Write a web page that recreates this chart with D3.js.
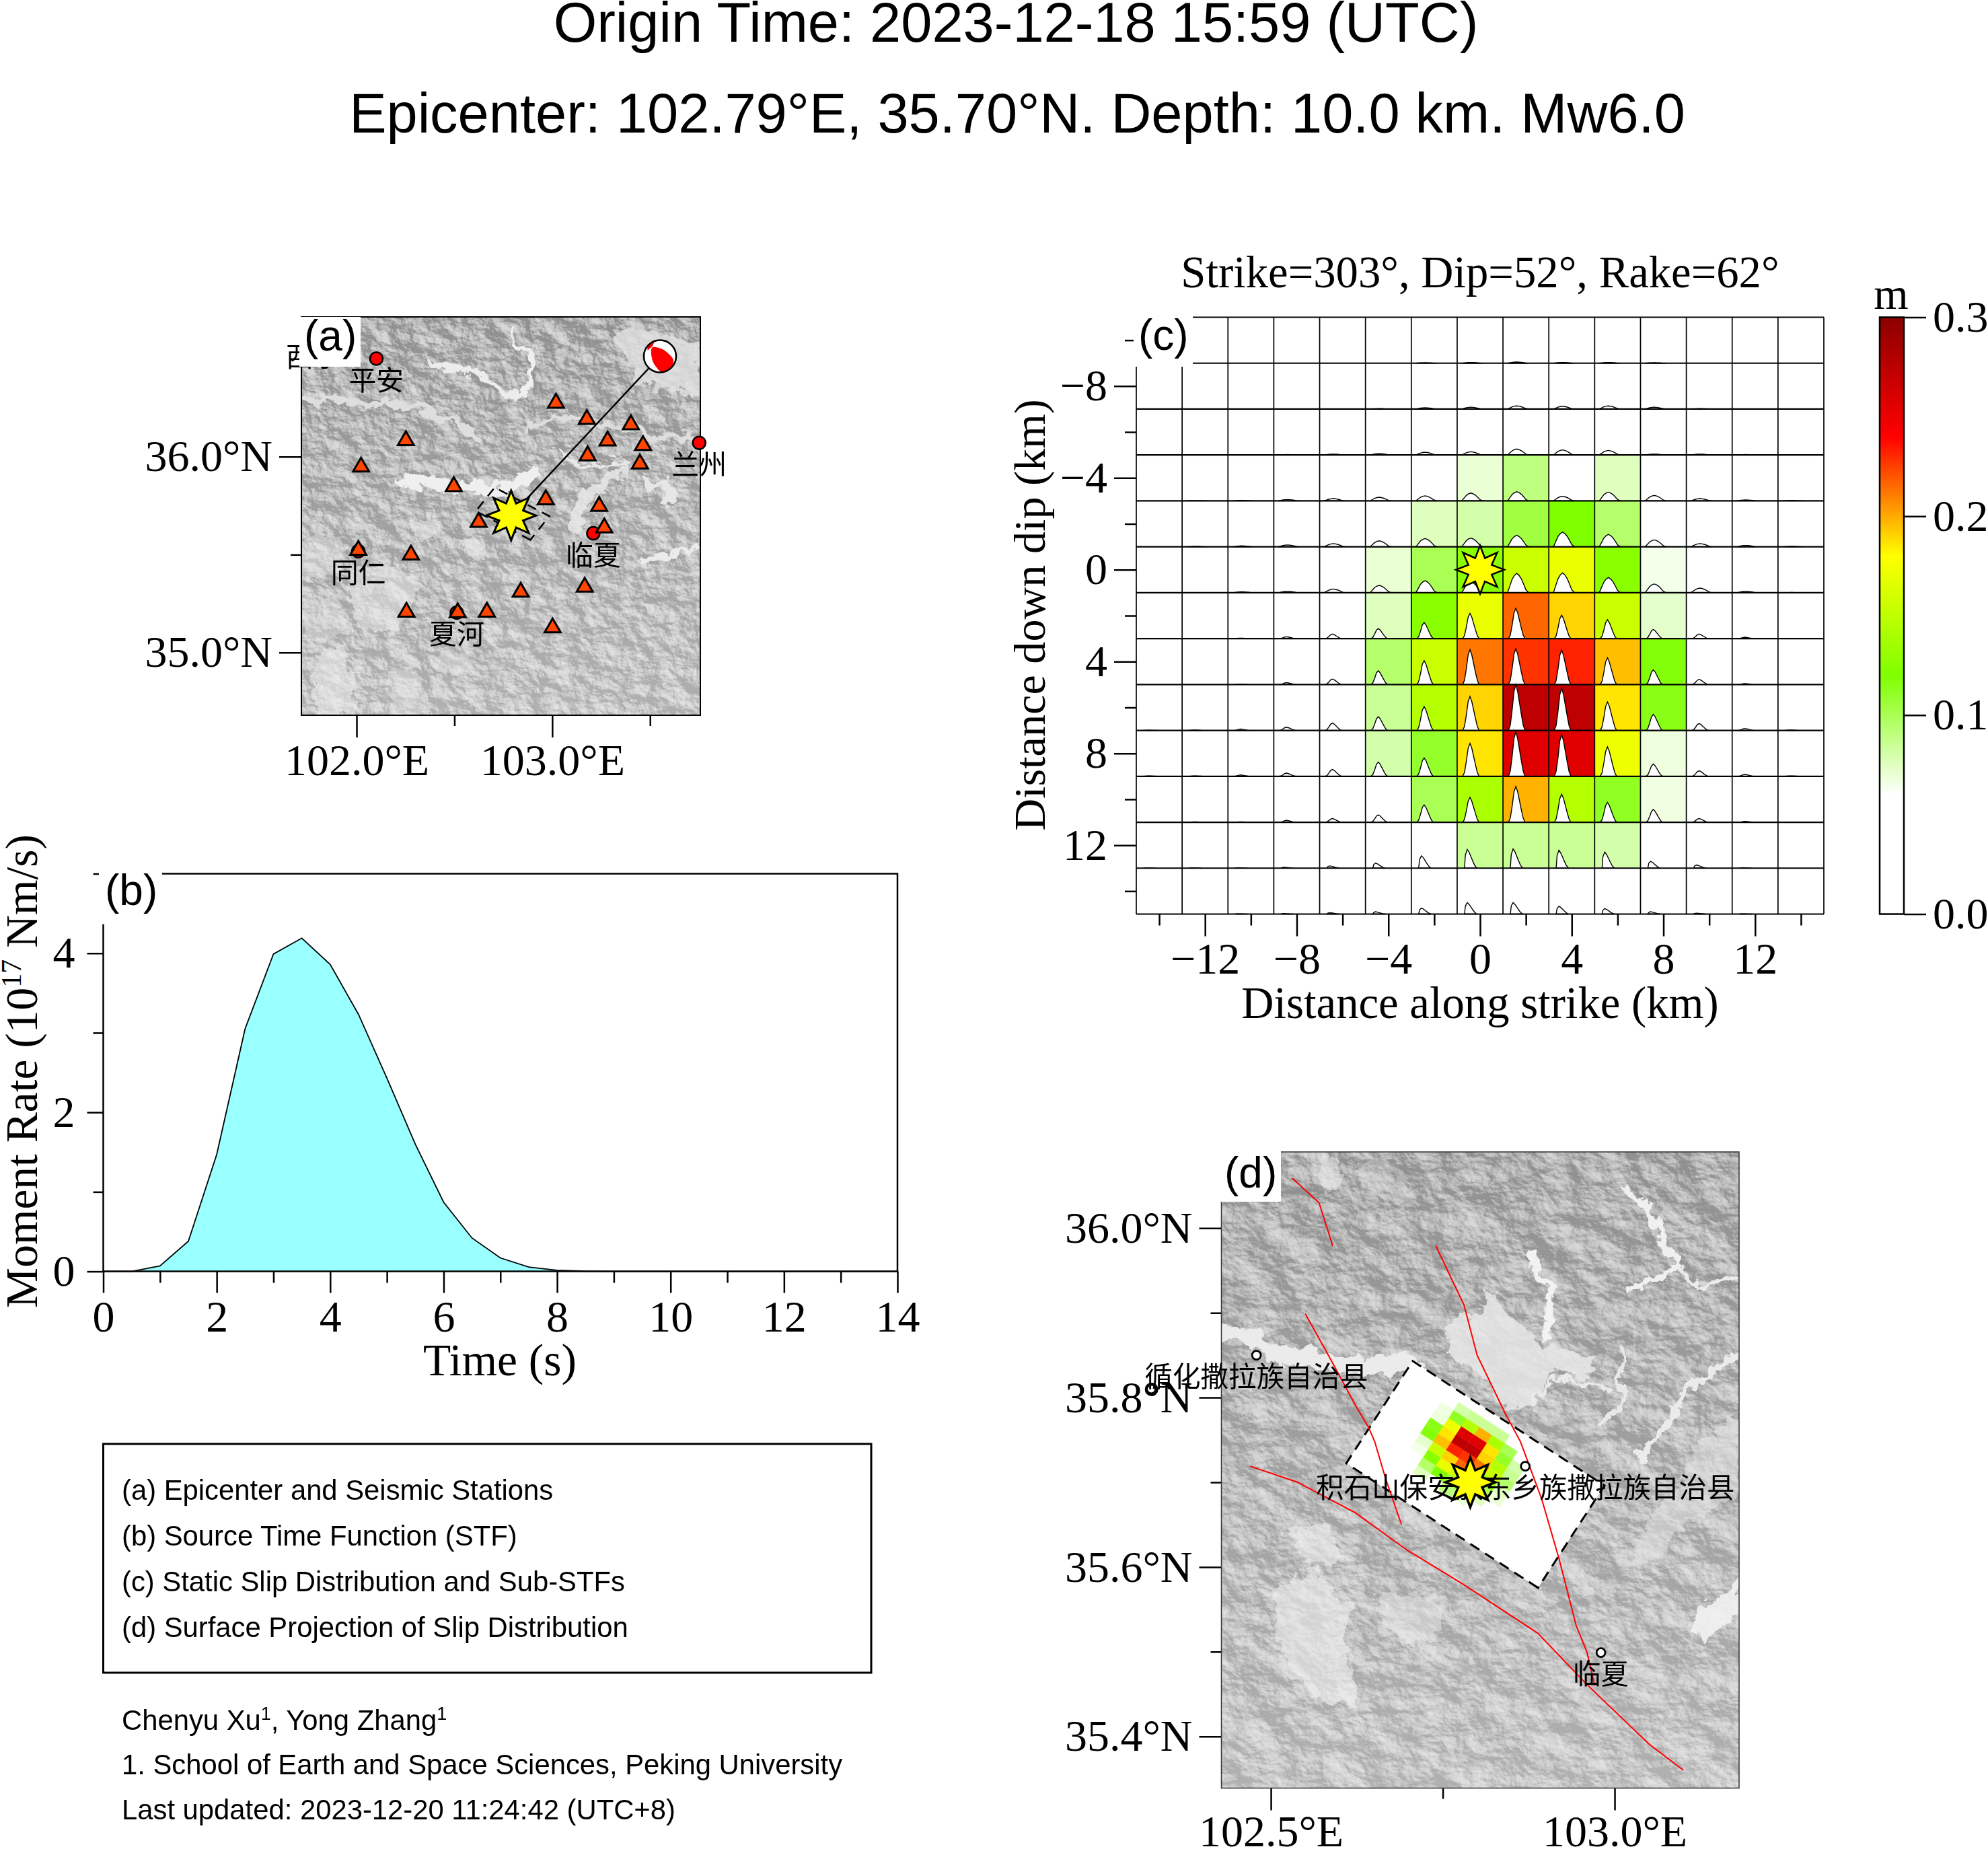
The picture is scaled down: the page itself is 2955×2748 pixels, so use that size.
<!DOCTYPE html>
<html><head><meta charset="utf-8">
<script src="https://cdn.jsdelivr.net/npm/d3@7/dist/d3.min.js"></script>
<style>
html,body{margin:0;padding:0;background:#fff;overflow:hidden}
svg{display:block}
.serif{font-family:"Liberation Serif",serif}
.sans{font-family:"Liberation Sans",sans-serif}
.cjk{font-family:"Noto Sans CJK SC",sans-serif}
</style></head><body>
<svg id="c" width="2955" height="2748"></svg>
<script>
// ---------- data ----------
const stfTime = [0,.5,1,1.5,2,2.5,3,3.5,4,4.5,5,5.5,6,6.5,7,7.5,8,8.5,9,10,12,14];
const stfRate = [0,0,.07,.38,1.47,3.05,3.99,4.19,3.86,3.23,2.43,1.6,.87,.42,.17,.055,.015,.003,0,0,0,0];

const alongStrike = [-14,-12,-10,-8,-6,-4,-2,0,2,4,6,8,10,12,14];
const downDip = [-10,-8,-6,-4,-2,0,2,4,6,8,10,12,14];
const slip = [
 [0,0,0,0,0,0,0,0,0,0,0,0,0,0,0],
 [0,0,0,0,0,0,0,0,0,0,0,0,0,0,0],
 [0,0,0,0,0,0,0,0,0,0,0,0,0,0,0],
 [0,0,0,0,0,0,0,.07,.09,0,.075,0,0,0,0],
 [0,0,0,0,0,0,.075,.08,.105,.12,.095,0,0,0,0],
 [0,0,0,0,0,.07,.1,.125,.155,.17,.125,.065,0,0,0],
 [0,0,0,0,0,.075,.125,.17,.216,.19,.155,.072,0,0,0],
 [0,0,0,0,0,.095,.155,.212,.228,.232,.195,.118,0,0,0],
 [0,0,0,0,0,.085,.145,.19,.273,.273,.186,.115,0,0,0],
 [0,0,0,0,0,.08,.11,.186,.256,.256,.172,.068,0,0,0],
 [0,0,0,0,0,0,.1,.14,.198,.145,.112,.067,0,0,0],
 [0,0,0,0,0,0,0,.085,.085,.085,.08,0,0,0,0],
 [0,0,0,0,0,0,0,0,0,0,0,0,0,0,0]];
// peak height of each sub-STF as a share of the cell height
const subPeak = [
 [0,0,0,0,0,0,.01,.015,.025,.015,.015,.01,0,0,0],
 [.004,.004,.004,.004,.005,.01,.03,.04,.07,.06,.07,.04,.01,.005,.003],
 [0,.004,.005,.01,.02,.03,.06,.07,.13,.11,.1,.02,.02,.01,.003],
 [0,.005,.01,.03,.05,.08,.11,.17,.2,.1,.19,.12,.05,.02,.01],
 [0,.01,.02,.04,.07,.13,.18,.19,.25,.32,.27,.15,.07,.03,.01],
 [0,0,.02,.03,.08,.16,.26,.24,.42,.43,.33,.19,.1,.03,.005],
 [0,0,.01,.04,.1,.22,.35,.55,.66,.51,.41,.2,.1,.03,0],
 [0,0,.01,.04,.12,.3,.52,.76,.78,.75,.58,.32,.11,.02,0],
 [.005,.01,.03,.07,.16,.3,.52,.74,1,.92,.62,.35,.15,.04,.01],
 [.01,.01,.03,.07,.15,.31,.4,.72,.97,.91,.64,.27,.12,.04,.01],
 [.005,.01,.01,.04,.08,.16,.38,.54,.78,.61,.43,.28,.08,.02,0],
 [.005,.01,.01,.02,.05,.11,.27,.41,.42,.39,.35,.15,.07,.01,0],
 [0,0,.005,.01,.03,.05,.13,.25,.25,.17,.12,.05,.02,.005,0]];
// sub-STF outlines: position inside the cell, normalised amplitude
const shapeUpperX=[.10,.15,.2,.25,.3,.35,.4,.45,.5,.56], shapeUpperY=[0,.35,.7,.9,1,.9,.72,.45,.15,0];
const shapeMidX=[.12,.16,.2,.24,.28,.32,.36,.4,.44,.48], shapeMidY=[0,.12,.45,.85,1,.85,.6,.35,.12,0];
const shapeLowX=[.16,.18,.22,.26,.3,.34,.38,.43], shapeLowY=[0,.7,1,.85,.62,.38,.16,0];

const slipStops=[0,.06,.12,.18,.24,.3];
const slipColors=["#ffffff","#ffffff","#7fff00","#ffff00","#ff0000","#8b0000"];

const epicenter=[102.79,35.70];
const stations=[[103.019,36.274],[103.177,36.191],[103.402,36.164],[103.283,36.081],[103.464,36.058],[103.181,36.005],[103.448,35.964],[102.252,36.083],[102.023,35.948],[102.497,35.848],[102.967,35.781],[102.624,35.666],[103.240,35.747],[103.266,35.637],[102.009,35.523],[102.278,35.499],[102.839,35.309],[103.166,35.335],[102.255,35.207],[102.517,35.204],[102.666,35.207],[103.002,35.127]];
const citiesA=[["西宁",101.78,36.62],["平安",102.101,36.501],["兰州",103.751,36.071],["临夏",103.21,35.609],["同仁",102.009,35.518],["夏河",102.512,35.204]];
const citiesD=[["循化撒拉族自治县",102.479,35.85],["积石山保安族东乡族撒拉族自治县",102.870,35.719],["",102.326,35.81],["临夏",102.98,35.499]];
const faults=[
 [[102.531,36.059],[102.570,36.030],[102.590,35.979]],
 [[102.740,35.979],[102.781,35.909],[102.800,35.850],[102.841,35.781],[102.863,35.748],[102.894,35.680],[102.919,35.610],[102.944,35.531],[102.960,35.499],[102.971,35.460]],
 [[102.550,35.899],[102.585,35.848],[102.623,35.791],[102.642,35.765],[102.651,35.748],[102.667,35.704],[102.690,35.650]],
 [[102.470,35.719],[102.539,35.700],[102.567,35.688],[102.623,35.664],[102.698,35.620],[102.779,35.580],[102.888,35.522],[102.960,35.461],[103.050,35.391],[103.100,35.360]]];
const strike=303, dip=52, kmPerLon=90.2, kmPerLat=111.19;

const legendLines=["(a) Epicenter and Seismic Stations","(b) Source Time Function (STF)","(c) Static Slip Distribution and Sub-STFs","(d) Surface Projection of Slip Distribution"];
const creditLines=["1. School of Earth and Space Sciences, Peking University","Last updated: 2023-12-20 11:24:42 (UTC+8)"];

// terrain decoration, in terrain-sketch coordinates of each map
const terrainA={
 lines:[[16,"#ececec",[[520,210],[620,228],[720,255],[770,285],[810,320]]],[10,"#efefef",[[810,320],[870,280],[885,210],[850,160],[800,110]]],
  [15,"#dedede",[[110,325],[200,325],[350,340],[500,345],[560,385],[620,395],[700,450]]],[12,"#dedede",[[860,410],[960,385],[1100,400],[1210,420],[1290,445],[1430,450]]],
  [26,"#efefef",[[440,580],[500,580],[570,590],[650,605],[760,612],[830,590],[880,560]]],[12,"#ebebeb",[[1240,835],[1340,810],[1435,790]]],[18,"#e6e6e6",[[1260,590],[1320,590],[1340,650]]],[8,"#e8e8e8",[[960,480],[1000,520],[1060,530],[1170,520]]]],
 polys:[[.8,"#e2e2e2",[[1150,110],[1200,100],[1435,150],[1435,320],[1380,300],[1310,300],[1220,260],[1180,180]]],
  [.85,"#e8e8e8",[[990,720],[1010,650],[1060,610],[1140,550],[1180,520],[1200,530],[1150,590],[1080,630],[1050,700],[1050,730],[1040,740]]],
  [.55,"#ececec",[[470,720],[540,700],[570,740],[520,770],[480,750]]],[.55,"#ececec",[[620,770],[680,760],[730,800],[690,830],[640,810]]],
  [.45,"#e8e8e8",[[110,770],[200,740],[260,790],[250,850],[180,880],[110,900]]],[.5,"#ececec",[[270,860],[440,860],[500,900],[470,990],[420,1060],[300,1050],[270,950]]],
  [.55,"#eeeeee",[[160,1130],[240,1100],[270,1180],[290,1320],[160,1320],[140,1200]]],[.4,"#e8e8e8",[[400,1180],[470,1170],[520,1220],[530,1320],[410,1320]]],[.4,"#e8e8e8",[[530,1140],[660,1120],[680,1180],[600,1190]]],[.4,"#e6e6e6",[[110,960],[230,940],[250,1060],[110,1100]]]]};
const terrainD={
 lines:[[38,"#ebebeb",[[338,440],[400,445],[470,490],[540,495],[620,510],[700,515],[780,500]]],[16,"#f2f2f2",[[1060,265],[1085,330],[1115,350],[1100,400],[1090,450]]],
  [14,"#f0f0f0",[[1280,125],[1330,170],[1365,240],[1400,290],[1350,330],[1290,350]]],[10,"#ebebeb",[[1400,290],[1450,345],[1540,320]]],[12,"#e8e8e8",[[1270,480],[1270,600],[1220,640]]],[14,"#ebebeb",[[1545,490],[1420,570],[1380,640],[1310,720]]],[9,"#eaeaea",[[1060,590],[1120,540],[1240,560]]]],
 polys:[[.85,"#e8e8e8",[[860,480],[880,410],[950,400],[958,335],[985,385],[1060,440],[1080,460],[1085,470],[1170,485],[1220,500],[1180,540],[1120,520],[1070,580],[1000,610],[940,540],[900,510]]],
  [.55,"#e4e4e4",[[1545,620],[1450,680],[1400,790],[1330,850],[1290,960],[1360,930],[1420,860],[1545,800]]],[.9,"#f2f2f2",[[1420,1100],[1450,1050],[1545,975],[1545,1050],[1470,1110]]],
  [.6,"#f0f0f0",[[460,1000],[560,960],[640,1040],[620,1120],[660,1260],[560,1240],[470,1130]]],[.6,"#f0f0f0",[[490,870],[580,860],[620,940],[540,950]]],[.5,"#ebebeb",[[700,1010],[840,1020],[860,1090],[780,1130],[720,1080]]],[.5,"#ebebeb",[[560,60],[610,60],[620,110],[580,140]]],[.35,"#dcdcdc",[[650,90],[700,60],[760,90],[680,150]]]]};

// ---------- setup ----------
const svg=d3.select("#c");
svg.append("rect").attr("width",2955).attr("height",2748).attr("fill","#fff");
const defs=svg.append("defs");
const shadeSteps=d3.range(48).map(i=>Math.max(.56,Math.min(.88,.71+(i/48-.82)*.85)).toFixed(3)).join(" ");
function shadeFilter(id,fx,fy,seed,scale){
  const f=defs.append("filter").attr("id",id).attr("x",0).attr("y",0).attr("width",1).attr("height",1).attr("color-interpolation-filters","sRGB");
  f.append("feTurbulence").attr("type","fractalNoise").attr("baseFrequency",fx+" "+fy).attr("numOctaves",5).attr("seed",seed);
  f.append("feDiffuseLighting").attr("surfaceScale",scale).attr("diffuseConstant",1).attr("lighting-color","#fff").append("feDistantLight").attr("azimuth",315).attr("elevation",55);
  const t=f.append("feComponentTransfer");
  ["feFuncR","feFuncG","feFuncB"].forEach(c=>t.append(c).attr("type","discrete").attr("tableValues",shadeSteps));
}
shadeFilter("shadeA",.03,.036,11,6);
shadeFilter("shadeD",.016,.022,5,8);
const rough=defs.append("filter").attr("id","rough").attr("x","-5%").attr("y","-5%").attr("width","110%").attr("height","110%");
rough.append("feTurbulence").attr("type","fractalNoise").attr("baseFrequency",.05).attr("numOctaves",4).attr("seed",3).attr("result","n");
rough.append("feDisplacementMap").attr("in","SourceGraphic").attr("in2","n").attr("scale",30).attr("xChannelSelector","R").attr("yChannelSelector","G");
const tone=defs.append("linearGradient").attr("id","tone").attr("x1",0).attr("y1",0).attr("x2",0).attr("y2",1);
tone.append("stop").attr("offset",0).attr("stop-color","#fff").attr("stop-opacity",.02);
tone.append("stop").attr("offset",1).attr("stop-color","#fff").attr("stop-opacity",.3);

const AW=2.5;
function styleAxis(g,size){
  g.selectAll("path.domain").remove();
  g.selectAll(".tick line").attr("stroke","#000").attr("stroke-width",AW);
  g.selectAll("text").attr("class","serif").attr("font-family","Liberation Serif").attr("font-size",size).attr("fill","#000");
}
function terrain(id,clip,x,y,w,h,shade,feat,cx,cy){
  const c=defs.append("clipPath").attr("id",clip); c.append("rect").attr("x",x).attr("y",y).attr("width",w).attr("height",h);
  const g=svg.append("g").attr("clip-path","url(#"+clip+")");
  g.append("rect").attr("x",x).attr("y",y).attr("width",w).attr("height",h).attr("filter","url(#"+shade+")");
  g.append("rect").attr("x",x).attr("y",y).attr("width",w).attr("height",h).attr("fill","url(#tone)");
  const o=g.append("g").attr("filter","url(#rough)");
  const l=d3.line().x(d=>cx(d[0])).y(d=>cy(d[1]));
  o.selectAll("path.p").data(feat.polys).join("path").attr("d",d=>l(d[2])+"Z").attr("fill",d=>d[1]).attr("opacity",d=>d[0]);
  o.selectAll("path.l").data(feat.lines).join("path").attr("class","l").attr("d",d=>l(d[2])).attr("fill","none").attr("stroke",d=>d[1]).attr("stroke-width",d=>d[0]*.7).attr("stroke-linecap","round").attr("stroke-linejoin","round");
}
function panelLabel(txt,bx,by,bw,bh,tx,ty){
  svg.append("rect").attr("x",bx).attr("y",by).attr("width",bw).attr("height",bh).attr("fill","#fff");
  svg.append("text").attr("class","sans").attr("x",tx).attr("y",ty).attr("font-size",64).text(txt);
}
const star=(g,x,y,R,sw)=>{
  const radii=d3.range(16).map(i=>i%2?R*.52:R);
  const p=d3.lineRadial().angle((d,i)=>i*Math.PI/8).radius(d=>d).curve(d3.curveLinearClosed);
  g.append("path").attr("d",p(radii)).attr("transform",`translate(${x},${y})`).attr("fill","#ffff00").attr("stroke","#000").attr("stroke-width",sw).attr("stroke-linejoin","miter");
};
// along strike / down dip (km) to lon, lat
const sr=strike*Math.PI/180, dr=(strike+90)*Math.PI/180, cd=Math.cos(dip*Math.PI/180);
function faultToGeo(xk,yk){
  const e=xk*Math.sin(sr)+yk*cd*Math.sin(dr), n=xk*Math.cos(sr)+yk*cd*Math.cos(dr);
  return [epicenter[0]+e/kmPerLon, epicenter[1]+n/kmPerLat];
}
const faultFrame=[[-15,-11],[15,-11],[15,15],[-15,15]].map(d=>faultToGeo(d[0],d[1]));
const slipColor=d3.scaleLinear().domain(slipStops).range(slipColors).clamp(true);

// ---------- titles ----------
svg.append("text").attr("class","sans").attr("x",1510).attr("y",62).attr("text-anchor","middle").attr("font-size",83).text("Origin Time: 2023-12-18 15:59 (UTC)");
svg.append("text").attr("class","sans").attr("x",1512).attr("y",197).attr("text-anchor","middle").attr("font-size",83).text("Epicenter: 102.79°E, 35.70°N. Depth: 10.0 km. Mw6.0");

// ---------- panel a ----------
const ax=d3.scaleLinear().domain([101.718,103.757]).range([448,1041]);
const ay=d3.scaleLinear().domain([36.714,34.68]).range([471,1063]);
terrain("a","clipA",448,471,593,592,"shadeA",terrainA,d3.scaleLinear([108,1435],[448,1041]),d3.scaleLinear([67,1320],[471,1063]));
const fmtE=d=>d.toFixed(1)+"°E", fmtN=d=>d.toFixed(1)+"°N";
const LBL=66;
let g;
g=svg.append("g").attr("transform","translate(0,1063)").call(d3.axisBottom(ax).tickValues([102,103]).tickSize(33).tickSizeOuter(0).tickPadding(9).tickFormat(fmtE)); styleAxis(g,LBL);
g=svg.append("g").attr("transform","translate(0,1063)").call(d3.axisBottom(ax).tickValues([102.5,103.5]).tickSize(16).tickSizeOuter(0).tickFormat("")); styleAxis(g,LBL);
g=svg.append("g").attr("transform","translate(448,0)").call(d3.axisLeft(ay).tickValues([36,35]).tickSize(33).tickSizeOuter(0).tickPadding(10).tickFormat(fmtN)); styleAxis(g,LBL);
g=svg.append("g").attr("transform","translate(448,0)").call(d3.axisLeft(ay).tickValues([36.5,35.5]).tickSize(16).tickSizeOuter(0).tickFormat("")); styleAxis(g,LBL);
svg.append("rect").attr("x",448).attr("y",471).attr("width",593).attr("height",592).attr("fill","none").attr("stroke","#000").attr("stroke-width",2);
const gA=svg.append("g");
const lineA=d3.line().x(d=>ax(d[0])).y(d=>ay(d[1]));
gA.append("path").attr("d",lineA(faultFrame)+"Z").attr("fill","none").attr("stroke","#000").attr("stroke-width",2.5).attr("stroke-dasharray","14 10");
gA.selectAll("circle.city").data(citiesA).join("circle").attr("cx",d=>ax(d[1])).attr("cy",d=>ay(d[2])).attr("r",9.5).attr("fill","#ff0000").attr("stroke","#000").attr("stroke-width",2.5);
const tri=d3.symbol().type(d3.symbolTriangle).size(245);
gA.selectAll("path.st").data(stations).join("path").attr("class","st").attr("d",tri).attr("transform",d=>`translate(${ax(d[0])},${ay(d[1])})`).attr("fill","#ff4500").attr("stroke","#000").attr("stroke-width",3);
gA.selectAll("text").data(citiesA).join("text").attr("class","cjk").attr("x",d=>ax(d[1])).attr("y",d=>ay(d[2])+47).attr("text-anchor","middle").attr("font-size",41).text(d=>d[0]);
// beach ball on its stalk
const ball=[981,529.5], ballR=24;
gA.append("line").attr("x1",ax(epicenter[0])).attr("y1",ay(epicenter[1])).attr("x2",ball[0]).attr("y2",ball[1]).attr("stroke","#000").attr("stroke-width",2.5);
const cb=defs.append("clipPath").attr("id","ballClip"); cb.append("circle").attr("cx",ball[0]).attr("cy",ball[1]).attr("r",ballR);
gA.append("circle").attr("cx",ball[0]).attr("cy",ball[1]).attr("r",ballR).attr("fill","#fff");
const ballMain=[[-.49,-.53],[.03,-.49],[.51,-.18],[.83,.24],[.68,.75],[.17,1.02],[-.25,.65],[-.49,.17]];
const ballSliver=[[-.5,-.58],[-.3,-.95],[-.8,-.6],[-.76,-.36]];
const ballLine=d3.line().x(d=>ball[0]+d[0]*ballR).y(d=>ball[1]+d[1]*ballR);
const gBall=gA.append("g").attr("clip-path","url(#ballClip)");
gBall.append("path").attr("d",ballLine.curve(d3.curveCatmullRomClosed)(ballMain)).attr("fill","#ff0000");
gBall.append("path").attr("d",ballLine.curve(d3.curveLinearClosed)(ballSliver)).attr("fill","#ff0000");
gA.append("circle").attr("cx",ball[0]).attr("cy",ball[1]).attr("r",ballR).attr("fill","none").attr("stroke","#000").attr("stroke-width",2.5);
star(gA,ax(epicenter[0]),ay(epicenter[1]),37,3);
panelLabel("(a)",445,471,91,74,452,521);

// ---------- panel b ----------
const bx=d3.scaleLinear().domain([0,14]).range([153.5,1334]);
const by=d3.scaleLinear().domain([0,5]).range([1889.6,1298.5]);
const stfPts=d3.zip(stfTime,stfRate);
svg.append("path").attr("d",d3.area().x(d=>bx(d[0])).y0(by(0)).y1(d=>by(d[1]))(stfPts)).attr("fill","#99ffff");
svg.append("path").attr("d",d3.line().x(d=>bx(d[0])).y(d=>by(d[1]))(stfPts)).attr("fill","none").attr("stroke","#000").attr("stroke-width",1.8);
g=svg.append("g").attr("transform","translate(0,1889.6)").call(d3.axisBottom(bx).tickValues(d3.range(0,15,2)).tickSize(32).tickSizeOuter(0).tickPadding(11)); styleAxis(g,LBL);
g=svg.append("g").attr("transform","translate(0,1889.6)").call(d3.axisBottom(bx).tickValues(d3.range(1,15,2)).tickSize(17).tickSizeOuter(0).tickFormat("")); styleAxis(g,LBL);
g=svg.append("g").attr("transform","translate(153.5,0)").call(d3.axisLeft(by).tickValues([0,2,4]).tickSize(24).tickSizeOuter(0).tickPadding(18).tickFormat(d3.format("d"))); styleAxis(g,LBL);
g=svg.append("g").attr("transform","translate(153.5,0)").call(d3.axisLeft(by).tickValues([1,3,5]).tickSize(15).tickSizeOuter(0).tickFormat("")); styleAxis(g,LBL);
svg.append("rect").attr("x",153.5).attr("y",1298.5).attr("width",1180.5).attr("height",591).attr("fill","none").attr("stroke","#000").attr("stroke-width",2.5);
panelLabel("(b)",147,1290,94,83.5,156,1345);
svg.append("text").attr("class","serif").attr("x",743).attr("y",2044).attr("text-anchor","middle").attr("font-size",67.5).text("Time (s)");
const yl=svg.append("text").attr("class","serif").attr("transform","translate(55,1592) rotate(-90)").attr("text-anchor","middle").attr("font-size",67.5);
yl.append("tspan").text("Moment Rate (10");
yl.append("tspan").attr("dy",-24).attr("font-size",42).text("17");
yl.append("tspan").attr("dy",24).text(" Nm/s)");

// ---------- panel c ----------
const cx=d3.scaleLinear().domain([-15,15]).range([1689,2711]);
const cy=d3.scaleLinear().domain([-11,15]).range([471.5,1358.5]);
const cellW=cx(2)-cx(0), cellH=cy(2)-cy(0);
const cells=[]; downDip.forEach((yk,r)=>alongStrike.forEach((xk,c)=>cells.push({xk,yk,z:slip[r][c],peak:subPeak[r][c]})));
svg.append("g").selectAll("rect").data(cells).join("rect").attr("x",d=>cx(d.xk-1)).attr("y",d=>cy(d.yk-1)).attr("width",cellW+.5).attr("height",cellH+.5).attr("fill",d=>slipColor(d.z));
const shapeOf=yk=>yk<=0?[shapeUpperX,shapeUpperY]:(yk<12?[shapeMidX,shapeMidY]:[shapeLowX,shapeLowY]);
svg.append("g").selectAll("path").data(cells.filter(d=>d.peak>0)).join("path").attr("d",d=>{
  const s=shapeOf(d.yk), base=cy(d.yk+1);
  return d3.line().x(p=>cx(d.xk-1)+p[0]*cellW).y(p=>base-p[1]*d.peak*cellH)(d3.zip(s[0],s[1]))+"Z";
}).attr("fill","#fff").attr("stroke","#000").attr("stroke-width",1.4);
const gridX=d3.range(-15,16,2), gridY=d3.range(-11,16,2);
svg.append("g").selectAll("line").data(gridX).join("line").attr("x1",d=>cx(d)).attr("x2",d=>cx(d)).attr("y1",471.5).attr("y2",1358.5).attr("stroke","#000").attr("stroke-width",1.7);
svg.append("g").selectAll("line").data(gridY).join("line").attr("x1",1689).attr("x2",2711).attr("y1",d=>cy(d)).attr("y2",d=>cy(d)).attr("stroke","#000").attr("stroke-width",2.2);
const fmtKm=d=>d<0?"−"+(-d):""+d;
g=svg.append("g").attr("transform","translate(0,1358.5)").call(d3.axisBottom(cx).tickValues([-12,-8,-4,0,4,8,12]).tickSize(33).tickSizeOuter(0).tickPadding(9).tickFormat(fmtKm)); styleAxis(g,LBL);
g=svg.append("g").attr("transform","translate(0,1358.5)").call(d3.axisBottom(cx).tickValues([-14,-10,-6,-2,2,6,10,14]).tickSize(17).tickSizeOuter(0).tickFormat("")); styleAxis(g,LBL);
g=svg.append("g").attr("transform","translate(1689,0)").call(d3.axisLeft(cy).tickValues([-8,-4,0,4,8,12]).tickSize(33).tickSizeOuter(0).tickPadding(10).tickFormat(fmtKm)); styleAxis(g,LBL);
g=svg.append("g").attr("transform","translate(1689,0)").call(d3.axisLeft(cy).tickValues([-10,-6,-2,2,6,10,14]).tickSize(17).tickSizeOuter(0).tickFormat("")); styleAxis(g,LBL);
star(svg,cx(0),cy(0),36,2.5);
panelLabel("(c)",1685,465,88,80,1692,520);
svg.append("text").attr("class","serif").attr("x",2200).attr("y",427).attr("text-anchor","middle").attr("font-size",66.7).text("Strike=303°, Dip=52°, Rake=62°");
svg.append("text").attr("class","serif").attr("x",2200).attr("y",1513).attr("text-anchor","middle").attr("font-size",66.7).text("Distance along strike (km)");
svg.append("text").attr("class","serif").attr("transform","translate(1553,914) rotate(-90)").attr("text-anchor","middle").attr("font-size",66.2).text("Distance down dip (km)");

// colour bar
const barScale=d3.scaleLinear().domain([0,.3]).range([1358.5,471.5]);
const grad=defs.append("linearGradient").attr("id","slipGrad").attr("x1",0).attr("y1",1).attr("x2",0).attr("y2",0);
slipStops.forEach((s,i)=>grad.append("stop").attr("offset",s/.3).attr("stop-color",slipColors[i]));
svg.append("rect").attr("x",2794).attr("y",471.5).attr("width",36).attr("height",887).attr("fill","url(#slipGrad)").attr("stroke","#000").attr("stroke-width",2.5);
g=svg.append("g").attr("transform","translate(2830,0)").call(d3.axisRight(barScale).tickValues([0,.1,.2,.3]).tickSize(33).tickSizeOuter(0).tickPadding(10).tickFormat(d3.format(".1f"))); styleAxis(g,LBL);
svg.append("text").attr("class","serif").attr("x",2811).attr("y",459).attr("text-anchor","middle").attr("font-size",LBL).text("m");

// ---------- panel d ----------
const dx=d3.scaleLinear().domain([102.428,103.181]).range([1815.5,2585]);
const dy=d3.scaleLinear().domain([36.09,35.339]).range([1712,2657.5]);
terrain("d","clipD",1815.5,1712,769.5,945.5,"shadeD",terrainD,d3.scaleLinear([338,1545],[1815.5,2585]),d3.scaleLinear([47,1435],[1712,2657.5]));
g=svg.append("g").attr("transform","translate(0,2657.5)").call(d3.axisBottom(dx).tickValues([102.5,103]).tickSize(33).tickSizeOuter(0).tickPadding(7).tickFormat(fmtE)); styleAxis(g,LBL);
g=svg.append("g").attr("transform","translate(0,2657.5)").call(d3.axisBottom(dx).tickValues([102.75]).tickSize(16).tickSizeOuter(0).tickFormat("")); styleAxis(g,LBL);
g=svg.append("g").attr("transform","translate(1815.5,0)").call(d3.axisLeft(dy).tickValues([36,35.8,35.6,35.4]).tickSize(33).tickSizeOuter(0).tickPadding(10).tickFormat(fmtN)); styleAxis(g,LBL);
g=svg.append("g").attr("transform","translate(1815.5,0)").call(d3.axisLeft(dy).tickValues([35.9,35.7,35.5]).tickSize(16).tickSizeOuter(0).tickFormat("")); styleAxis(g,LBL);
svg.append("rect").attr("x",1815.5).attr("y",1712).attr("width",769.5).attr("height",945.5).attr("fill","none").attr("stroke","#333").attr("stroke-width",1.5);
const lineD=d3.line().x(d=>dx(d[0])).y(d=>dy(d[1]));
const gD=svg.append("g");
gD.append("path").attr("d",lineD(faultFrame)+"Z").attr("fill","#fff").attr("stroke","#000").attr("stroke-width",3).attr("stroke-dasharray","16 10");
gD.selectAll("path.cell").data(cells.filter(d=>d.z>0)).join("path").attr("class","cell").attr("d",d=>lineD([[d.xk-1,d.yk-1],[d.xk+1,d.yk-1],[d.xk+1,d.yk+1],[d.xk-1,d.yk+1]].map(p=>faultToGeo(p[0],p[1])))+"Z").attr("fill",d=>slipColor(d.z)).attr("stroke",d=>slipColor(d.z)).attr("stroke-width",.4);
gD.selectAll("path.fault").data(faults).join("path").attr("class","fault").attr("d",lineD).attr("fill","none").attr("stroke","#ff0000").attr("stroke-width",2);
gD.selectAll("circle.city").data(citiesD).join("circle").attr("cx",d=>dx(d[1])).attr("cy",d=>dy(d[2])).attr("r",6.5).attr("fill","#fff").attr("stroke","#000").attr("stroke-width",2.8);
gD.selectAll("text").data(citiesD).join("text").attr("class","cjk").attr("x",d=>dx(d[1])).attr("y",d=>dy(d[2])+47).attr("text-anchor","middle").attr("font-size",41.5).text(d=>d[0]);
star(gD,dx(epicenter[0]),dy(epicenter[1]),37,3.5);
panelLabel("(d)",1812,1706,92,80,1820,1765);

// ---------- legend and credits ----------
svg.append("rect").attr("x",153.5).attr("y",2146).attr("width",1141.5).attr("height",340).attr("fill","none").attr("stroke","#000").attr("stroke-width",3);
const legendY=d3.scaleLinear().domain([0,3]).range([2228.5,2433]);
svg.append("g").selectAll("text").data(legendLines).join("text").attr("class","sans").attr("x",181).attr("y",(d,i)=>legendY(i)).attr("font-size",41.8).text(d=>d);
const credit=svg.append("text").attr("class","sans").attr("x",181).attr("y",2570.5).attr("font-size",41.8);
credit.append("tspan").text("Chenyu Xu");
credit.append("tspan").attr("dy",-15).attr("font-size",27).text("1");
credit.append("tspan").attr("dy",15).text(", Yong Zhang");
credit.append("tspan").attr("dy",-15).attr("font-size",27).text("1");
svg.append("g").selectAll("text.cr").data(creditLines).join("text").attr("class","sans").attr("x",181).attr("y",(d,i)=>2636.5+i*67).attr("font-size",41.8).text(d=>d);
</script>
</body></html>
